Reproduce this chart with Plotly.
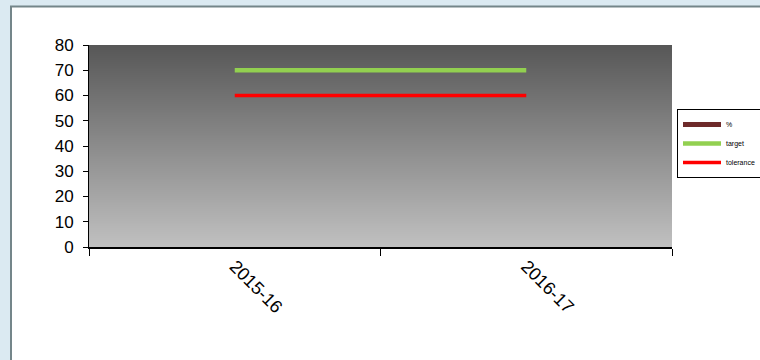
import plotly.graph_objects as go

categories = ["2015-16", "2016-17"]
pct = [None, None]
target = [70, 70]
tolerance = [60, 60]
y_ticks = [0, 10, 20, 30, 40, 50, 60, 70, 80]

L, R, T, B = 89, 88, 45, 113
W, H = 760, 360
pw, ph = W - L - R, H - T - B

fig = go.Figure()
fig.add_trace(go.Scatter(x=categories, y=pct, name="%", mode="lines",
                         line=dict(color="#6e2a2a", width=5), legendgroup="a"))
fig.add_trace(go.Scatter(x=categories, y=target, name="target", mode="lines",
                         line=dict(color="#92d050", width=4.5), legendgroup="b"))
fig.add_trace(go.Scatter(x=categories, y=tolerance, name="tolerance", mode="lines",
                         line=dict(color="#ff0000", width=3.5), legendgroup="c"))

shapes = []
# white panel with gray border
shapes.append(dict(type="rect", xref="paper", yref="paper",
                   x0=(11 - L) / pw, x1=(W + 20 - L) / pw,
                   y0=(H - B - (H + 20)) / ph, y1=(H - B - 6.5) / ph,
                   fillcolor="white", line=dict(color="#74868a", width=2), layer="below"))
# gradient plot background, one strip per pixel row
top = (0x57, 0x57, 0x57)
bot = (0xc0, 0xc0, 0xc0)
n = ph
for i in range(n):
    t = i / (n - 1)
    c = tuple(int(round(bot[k] + (top[k] - bot[k]) * t)) for k in range(3))
    shapes.append(dict(type="rect", xref="paper", yref="paper",
                       x0=0, x1=1, y0=i / n, y1=(i + 1) / n,
                       fillcolor="rgb(%d,%d,%d)" % c, line=dict(width=0), layer="below"))

fig.update_layout(
    width=W, height=H,
    margin=dict(l=L, r=R, t=T, b=B, autoexpand=False),
    paper_bgcolor="#dbeaf2",
    plot_bgcolor="rgba(0,0,0,0)",
    shapes=shapes,
    font=dict(family="Liberation Sans, Arial", color="black"),
    showlegend=True,
    legend=dict(x=(677 - L) / pw, xanchor="left", y=(H - B - 109) / ph, yanchor="top",
                bgcolor="white", bordercolor="black", borderwidth=1,
                font=dict(size=7, color="black"), tracegroupgap=0, itemwidth=38),
    xaxis=dict(type="category", range=[-0.5, 1.5], tickson="boundaries",
               showline=True, linecolor="black", linewidth=1.5, showgrid=False,
               ticks="outside", ticklen=7, tickcolor="black", tickwidth=1,
               tickangle=45, tickfont=dict(size=18)),
    yaxis=dict(range=[0, 80], tickvals=y_ticks, showline=True, linecolor="black",
               linewidth=1, showgrid=False, zeroline=False,
               ticks="outside", ticklen=5, tickcolor="black",
               ticklabelstandoff=6, tickfont=dict(size=17)),
)

fig.write_html("out.html")
